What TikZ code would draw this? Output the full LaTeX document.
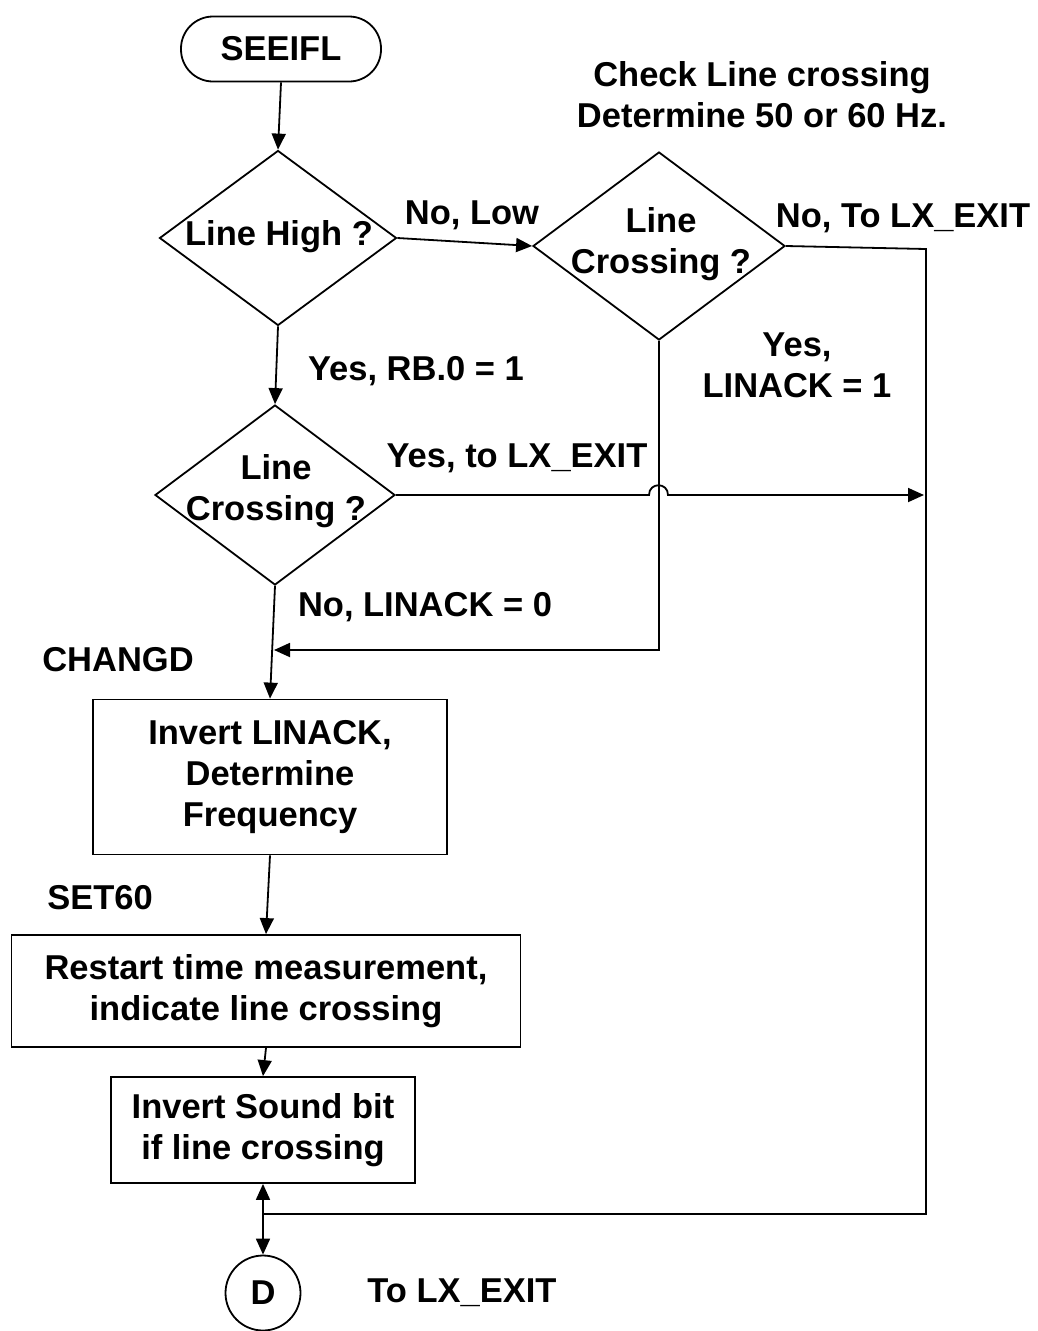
\documentclass[tikz,border=0pt]{standalone}
\usepackage{fontspec}
\setmainfont{Liberation Sans}
\usetikzlibrary{shapes.geometric,arrows.meta}
\begin{document}
\begin{tikzpicture}[x=1pt,y=-1pt,
  every node/.style={font=\fontsize{34.5}{41}\selectfont\bfseries, inner sep=0pt, align=center},
  ln/.style={line width=1.8pt},
  arr/.style={ln,-{Triangle[length=16pt,width=14pt]}},
  dia/.style={draw,ln,diamond,inner sep=0pt},
  box/.style={draw,ln,rectangle}]
\useasboundingbox (0,0) rectangle (1038,1331);
% nodes
\node[draw,ln,rounded corners=32pt,minimum width=200pt,minimum height=65pt] (t) at (281,49) {SEEIFL};
\node[dia,minimum width=237pt,minimum height=175pt] (d1) at (278,238) {};
\node (d1t) at (279,237) {Line High ?};
\node[dia,minimum width=252pt,minimum height=188pt] (d2) at (659,246) {};
\node (d2t) at (661,244) {Line\\Crossing ?};
\node[dia,minimum width=240pt,minimum height=180pt] (d3) at (275,495) {};
\node (d3t) at (276,491) {Line\\Crossing ?};
\node[box,minimum width=354pt,minimum height=155pt] (b1) at (270,777) {Invert LINACK,\\Determine\\Frequency};
\node[box,minimum width=509pt,minimum height=112pt] (b2) at (266,991) {Restart time measurement,\\indicate line crossing};
\node[box,minimum width=304pt,minimum height=106pt] (b3) at (263,1130) {Invert Sound bit\\if line crossing};
\node[draw,ln,circle,minimum size=75pt] (D) at (263,1293) {D};
% labels
\node (lc) at (762,95) {Check Line crossing\\Determine 50 or 60 Hz.};
\node (l1) at (472,215) {No, Low};
\node (l2) at (903,218) {No, To LX\_EXIT};
\node (l3) at (416,371) {Yes, RB.0 = 1};
\node (l4) at (797,365) {Yes,\\LINACK = 1};
\node (l5) at (517,458) {Yes, to LX\_EXIT};
\node (l6) at (425,607) {No, LINACK = 0};
\node (l7) at (118,660) {CHANGD};
\node (l8) at (100,898) {SET60};
\node (l9) at (462,1293) {To LX\_EXIT};
% coordinates
\coordinate (tr) at (926,249);
\coordinate (br) at (926,1214);
\coordinate (j) at (263,1214);
\coordinate (m) at (274,650);
\coordinate (hA) at (649,495);
\coordinate (hB) at (668,495);
\coordinate (e3) at (924,495);
% connectors
\draw[arr] (t.south) -- (d1.north);
\draw[arr] (d1.east) -- (d2.west);
\draw[arr] (d1.south) -- (d3.north);
\draw[arr] (d3.south) -- (b1.north);
\draw[arr] (b1.south) -- (b2.north);
\draw[arr] (b2.south) -- (b3.north);
\draw[ln] (d2.east) -- (tr) -- (br) -- (j);
\draw[arr] (j) -- (b3.south);
\draw[arr] (j) -- (D.north);
\draw[arr] (d2.south) -- (d2.south |- m) -- (m);
\draw[arr] (d3.east) -- (hA) .. controls (649,482) and (668,482) .. (hB) -- (e3);
\end{tikzpicture}
\end{document}
